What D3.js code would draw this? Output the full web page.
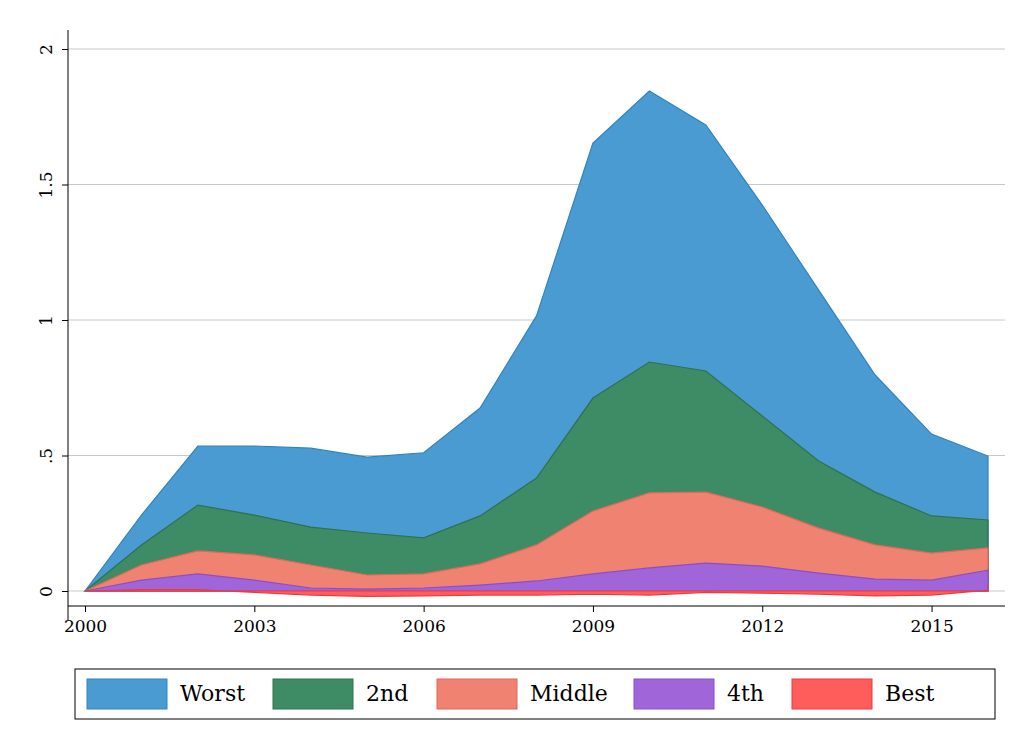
<!DOCTYPE html>
<html><head><meta charset="utf-8">
<script src="https://cdn.jsdelivr.net/npm/d3@7"></script>
<style>body{margin:0;background:#fff}text{font-family:"DejaVu Serif",serif}</style>
</head><body><svg id="c" width="1028" height="750"></svg>
<script>
// cumulative levels of each band
var years = d3.range(2000, 2017);
var worst  = [0,0.28,0.535,0.535,0.527,0.494,0.51,0.675,1.015,1.653,1.845,1.72,1.424,1.11,0.797,0.579,0.498];
var second = [0,0.17,0.317,0.28,0.236,0.214,0.196,0.277,0.417,0.712,0.845,0.812,0.646,0.48,0.365,0.277,0.262];
var middle = [0,0.096,0.148,0.133,0.096,0.059,0.063,0.1,0.17,0.295,0.362,0.365,0.31,0.232,0.17,0.14,0.159];
var fourth = [0,0.04,0.063,0.04,0.011,0.007,0.011,0.022,0.037,0.063,0.085,0.103,0.092,0.066,0.044,0.04,0.077];
var best   = [0,0.005,0.005,-0.005,-0.015,-0.02,-0.018,-0.015,-0.015,-0.012,-0.015,-0.005,-0.008,-0.012,-0.018,-0.015,0.003];
var yTicks = [0,0.5,1,1.5,2];
var yLabels = ['0','.5','1','1.5','2'];
var xTicks = [2000,2003,2006,2009,2012,2015];
var names = ['Worst','2nd','Middle','4th','Best'];
var fills = ['#4a9bd1','#3e8c66','#f08272','#a066d9','#ff5c5c'];
var strokes = ['#2f84c0','#2c7350','#e2685a','#8a4fc8','#f03a3a'];

var svg = d3.select('#c');
var x = d3.scaleLinear().domain([2000,2016]).range([85,988]);
var y = d3.scaleLinear().domain([0,2]).range([591,49]);

svg.selectAll('.g').data(yTicks).enter().append('line')
  .attr('x1',68).attr('x2',1005).attr('y1',y).attr('y2',y)
  .attr('stroke','#c8c8c8').attr('stroke-width',1);

var area = d3.area().x(function(d,i){return x(years[i]);}).y0(y(0)).y1(function(d){return y(d);});
[worst,second,middle,fourth,best].forEach(function(s,k){
  svg.append('path').datum(s).attr('d',area)
    .attr('fill',fills[k]).attr('stroke',strokes[k]).attr('stroke-width',1.2);
});

var ya = svg.append('g').attr('transform','translate(68,0)')
  .call(d3.axisLeft(y).tickValues(yTicks).tickSize(6).tickFormat(function(d,i){return yLabels[i];}));
ya.select('.domain').attr('d','M0,30V620');
ya.selectAll('text').attr('x',null).attr('transform','translate(-21,0) rotate(-90)')
  .attr('text-anchor','middle').attr('dy','0.32em').style('font-size','17px');

var xa = svg.append('g').attr('transform','translate(0,606)')
  .call(d3.axisBottom(x).tickValues(xTicks).tickFormat(d3.format('d')).tickSize(6));
xa.select('.domain').attr('d','M68,0H1005');
xa.selectAll('text').style('font-size','17px').attr('dy','1.0em');
svg.selectAll('.domain, .tick line').attr('stroke','#000');

var lg = svg.append('g');
lg.append('rect').attr('x',75).attr('y',669).attr('width',920).attr('height',50)
  .attr('fill','#fff').attr('stroke','#000');
var keyX = [87,273,437,634,792];
names.forEach(function(n,k){
  lg.append('rect').attr('x',keyX[k]).attr('y',679).attr('width',80).attr('height',30)
    .attr('fill',fills[k]).attr('stroke',strokes[k]);
  lg.append('text').attr('x',keyX[k]+93).attr('y',701).text(n).style('font-size','22px');
});
</script></body></html>
